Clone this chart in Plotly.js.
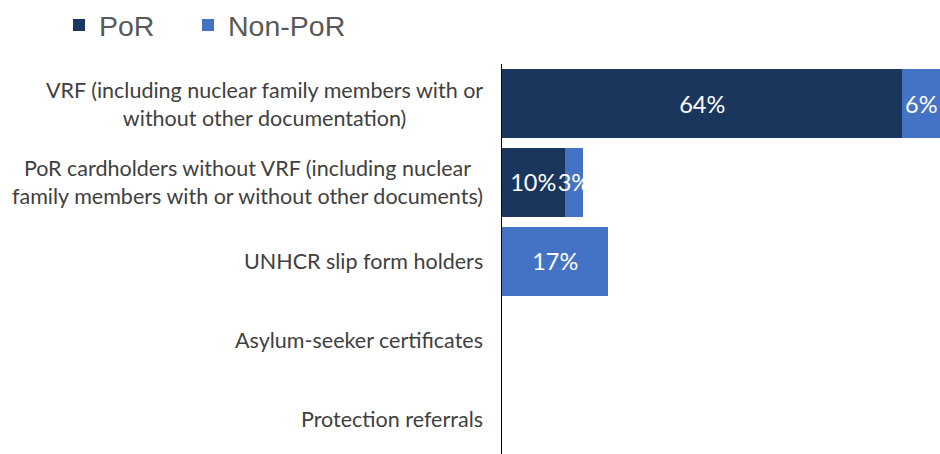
<!DOCTYPE html>
<html>
<head>
<meta charset="utf-8">
<script src="https://cdn.plot.ly/plotly-3.0.1.min.js"></script>
<style>html,body{margin:0;padding:0;background:#fff;}#chart{width:940px;height:454px;}</style>
</head>
<body>
<div id="chart"></div>
<script>
const categories = [
  "VRF (including nuclear family members with or<br>without other documentation)",
  "PoR cardholders without VRF (including nuclear<br>family members with or without other documents)",
  "UNHCR slip form holders",
  "Asylum-seeker certificates",
  "Protection referrals"
];
const seriesNames = ["PoR", "Non-PoR"];
const porValues = [64, 10, 0, 0, 0];
const nonPorValues = [6, 3, 17, 0, 0];
const colors = ["#1b365d", "#4472c4"];

const labelFont = {family: "Lato, 'Open Sans', sans-serif", size: 23.5, color: "#ffffff"};

function barTrace(name, vals, color, legendId) {
  return {
    type: "bar",
    orientation: "h",
    name: name,
    legend: legendId,
    y: categories,
    x: vals,
    marker: {color: color, line: {width: 0}},
    text: vals.map(v => v + "%"),
    textposition: "inside",
    insidetextanchor: "middle",
    textangle: 0,
    constraintext: "none",
    textfont: labelFont,
    hoverinfo: "skip",
    cliponaxis: false
  };
}

const data = [
  barTrace(seriesNames[0], porValues, colors[0], "legend"),
  barTrace(seriesNames[1], nonPorValues, colors[1], "legend2")
];

const annotations = categories.map(c => ({
  xref: "paper", yref: "y", x: 0, y: c,
  xanchor: "right", yanchor: "middle",
  xshift: -17,
  align: "center",
  showarrow: false,
  text: c,
  font: {family: "Lato, 'Open Sans', sans-serif", size: 21.5, color: "#404040"}
}));

const legendFont = {family: "'Liberation Sans', Arial, sans-serif", size: 28.5, color: "#595959"};

const layout = {
  width: 940, height: 454,
  margin: {l: 502, r: 0, t: 64, b: 0, pad: 0},
  paper_bgcolor: "#ffffff",
  plot_bgcolor: "#ffffff",
  barmode: "stack",
  bargap: 0.127,
  showlegend: true,
  legend: {
    orientation: "h",
    xref: "container", yref: "container",
    x: 59 / 940, y: 1.0,
    xanchor: "left", yanchor: "top",
    font: legendFont,
    bgcolor: "rgba(0,0,0,0)"
  },
  legend2: {
    orientation: "h",
    xref: "container", yref: "container",
    x: 188 / 940, y: 1.0,
    xanchor: "left", yanchor: "top",
    font: legendFont,
    bgcolor: "rgba(0,0,0,0)"
  },
  xaxis: {
    range: [0, 70],
    visible: false,
    showgrid: false,
    zeroline: false
  },
  yaxis: {
    type: "category",
    categoryorder: "array",
    categoryarray: categories,
    range: [4.437, -0.5],
    showticklabels: false,
    ticks: "",
    showgrid: false,
    zeroline: false,
    showline: true,
    linecolor: "#000000",
    linewidth: 1.5
  },
  annotations: annotations
};

Plotly.newPlot("chart", data, layout, {displayModeBar: false, staticPlot: true});
</script>
</body>
</html>
